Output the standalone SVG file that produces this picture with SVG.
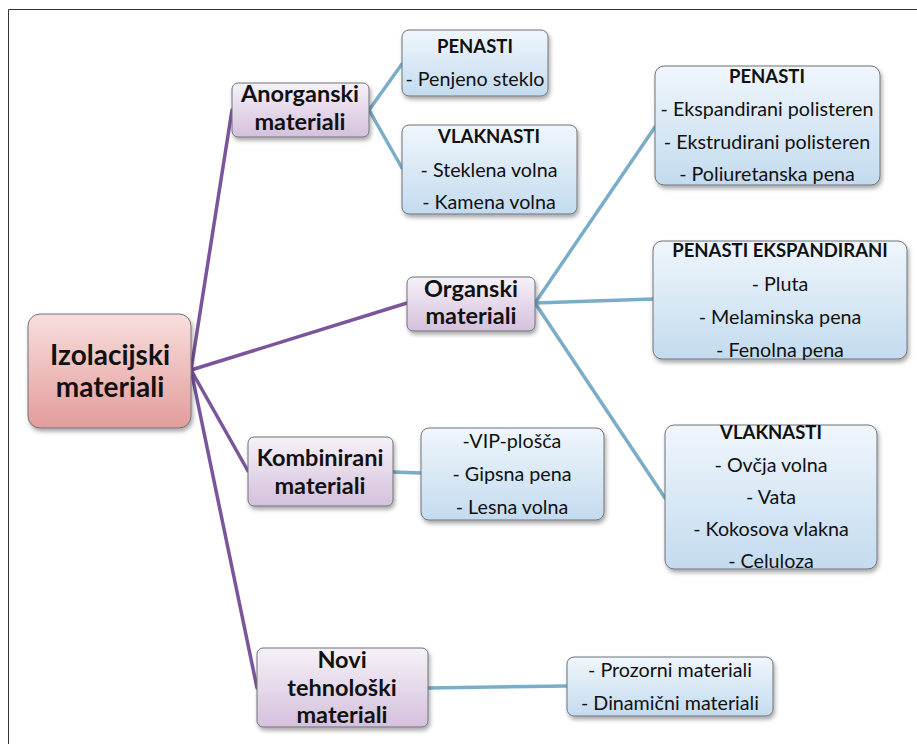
<svg xmlns="http://www.w3.org/2000/svg" width="917" height="744" viewBox="0 0 917 744">
<defs>
<linearGradient id="gBlue" x1="0" y1="0" x2="0" y2="1"><stop offset="0" stop-color="#f0f6fc"/><stop offset="1" stop-color="#c3dbef"/></linearGradient>
<linearGradient id="gPurple" x1="0" y1="0" x2="0" y2="1"><stop offset="0" stop-color="#f6f1f8"/><stop offset="1" stop-color="#d4c0dc"/></linearGradient>
<linearGradient id="gPink" x1="0" y1="0" x2="0" y2="1"><stop offset="0" stop-color="#f8dedd"/><stop offset="1" stop-color="#e29c9b"/></linearGradient>
<filter id="sh" x="-10%" y="-10%" width="125%" height="135%"><feDropShadow dx="1.5" dy="3" stdDeviation="2" flood-color="#000" flood-opacity="0.35"/></filter>
<style>
.box{stroke:#6f7378;stroke-width:1;filter:url(#sh)}
.blue{fill:url(#gBlue)}
.purple{fill:url(#gPurple)}
.pink{fill:url(#gPink)}
text{font-family:Lato,"Liberation Sans",sans-serif;fill:#111;text-anchor:middle}
.t{font-size:19.7px}
.h{font-size:18.5px;font-weight:bold}
.m{font-size:23.5px;font-weight:bold}
.big{font-size:28px;font-weight:bold}
.pl{stroke:#7b559b;stroke-width:3.5;fill:none;stroke-linecap:round}
.bl{stroke:#7aaec8;stroke-width:3.5;fill:none;stroke-linecap:round}
</style>
</defs>
<rect width="917" height="744" fill="#fff"/>
<path d="M8.5 744 V9.5 H917" fill="none" stroke="#333" stroke-width="1"/>
<g id="connectors">
<line class="pl" x1="191" y1="370" x2="232" y2="110"/>
<line class="pl" x1="191" y1="370" x2="407" y2="303"/>
<line class="pl" x1="191" y1="370" x2="248" y2="471"/>
<line class="pl" x1="191" y1="370" x2="257" y2="688"/>
<line class="bl" x1="369" y1="110" x2="402" y2="64"/>
<line class="bl" x1="369" y1="110" x2="402" y2="168"/>
<line class="bl" x1="535" y1="303" x2="655" y2="127"/>
<line class="bl" x1="535" y1="303" x2="653" y2="299"/>
<line class="bl" x1="535" y1="303" x2="665" y2="498"/>
<line class="bl" x1="393" y1="472" x2="421" y2="473"/>
<line class="bl" x1="428" y1="688" x2="567" y2="686"/>
</g>
<g id="izolacijski">
<rect class="box pink" x="28" y="314" width="163" height="114" rx="12"/>
<text class="big" x="110" y="365">Izolacijski</text>
<text class="big" x="110" y="397">materiali</text>
</g>
<g id="anorganski">
<rect class="box purple" x="232" y="83" width="137" height="54" rx="6"/>
<text class="m" x="300" y="102">Anorganski</text>
<text class="m" x="300" y="130">materiali</text>
</g>
<g id="anorg-penasti">
<rect class="box blue" x="402" y="30" width="146" height="66" rx="7"/>
<text class="h" x="475" y="53">PENASTI</text>
<text class="t" x="475" y="86">- Penjeno steklo</text>
</g>
<g id="anorg-vlaknasti">
<rect class="box blue" x="402" y="125" width="175" height="89" rx="7"/>
<text class="h" x="489" y="143">VLAKNASTI</text>
<text class="t" x="489" y="177">- Steklena volna</text>
<text class="t" x="489" y="209">- Kamena volna</text>
</g>
<g id="organski">
<rect class="box purple" x="407" y="277" width="128" height="54" rx="6"/>
<text class="m" x="471" y="297">Organski</text>
<text class="m" x="471" y="324">materiali</text>
</g>
<g id="org-penasti">
<rect class="box blue" x="655" y="66" width="225" height="119" rx="9"/>
<text class="h" x="767" y="83">PENASTI</text>
<text class="t" x="767" y="116">- Ekspandirani polisteren</text>
<text class="t" x="767" y="149">- Ekstrudirani polisteren</text>
<text class="t" x="767" y="181">- Poliuretanska pena</text>
</g>
<g id="org-penasti-eksp">
<rect class="box blue" x="653" y="241" width="254" height="118" rx="9"/>
<text class="h" x="780" y="257">PENASTI EKSPANDIRANI</text>
<text class="t" x="780" y="291">- Pluta</text>
<text class="t" x="780" y="324">- Melaminska pena</text>
<text class="t" x="780" y="357">- Fenolna pena</text>
</g>
<g id="org-vlaknasti">
<rect class="box blue" x="665" y="425" width="212" height="144" rx="9"/>
<text class="h" x="771" y="439">VLAKNASTI</text>
<text class="t" x="771" y="472">- Ovčja volna</text>
<text class="t" x="771" y="504">- Vata</text>
<text class="t" x="771" y="536">- Kokosova vlakna</text>
<text class="t" x="771" y="568">- Celuloza</text>
</g>
<g id="kombinirani">
<rect class="box purple" x="248" y="437" width="145" height="69" rx="6"/>
<text class="m" x="320" y="466">Kombinirani</text>
<text class="m" x="320" y="494">materiali</text>
</g>
<g id="komb-list">
<rect class="box blue" x="421" y="428" width="183" height="92" rx="8"/>
<text class="t" x="512" y="448">-VIP-plošča</text>
<text class="t" x="512" y="481">- Gipsna pena</text>
<text class="t" x="512" y="514">- Lesna volna</text>
</g>
<g id="novi">
<rect class="box purple" x="257" y="648" width="171" height="79" rx="6"/>
<text class="m" x="342" y="668">Novi</text>
<text class="m" x="342" y="696">tehnološki</text>
<text class="m" x="342" y="723">materiali</text>
</g>
<g id="novi-list">
<rect class="box blue" x="567" y="657" width="206" height="59" rx="7"/>
<text class="t" x="670" y="677">- Prozorni materiali</text>
<text class="t" x="670" y="710">- Dinamični materiali</text>
</g>
</svg>
